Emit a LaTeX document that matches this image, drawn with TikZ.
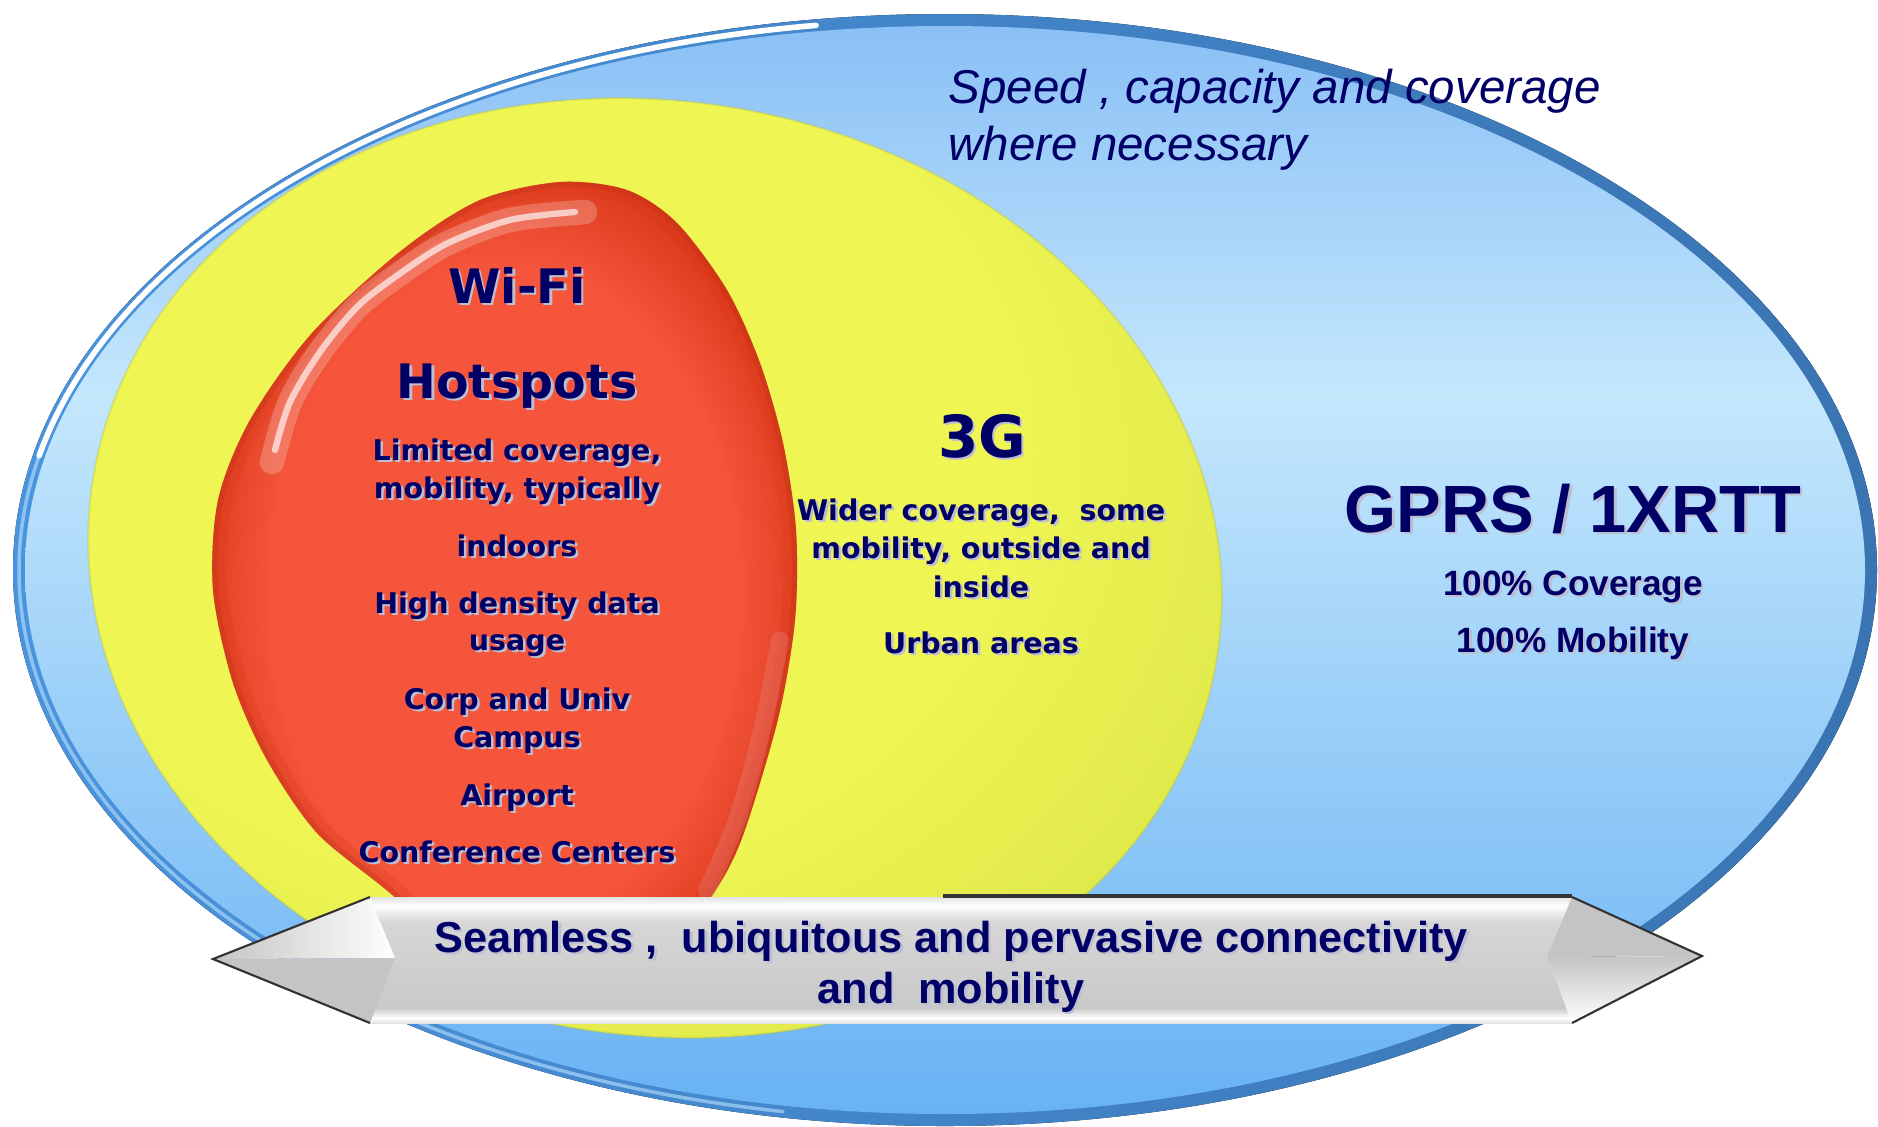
\documentclass[tikz,border=0pt]{standalone}
\usepackage{fontspec}
\usepackage{xcolor}
\newfontfamily\verdfont{DejaVu Sans}
\newfontfamily\arialfont{Liberation Sans}

\definecolor{navytxt}{RGB}{0,0,102}
\definecolor{shadowtxt}{RGB}{190,190,210}
\definecolor{blueTop}{RGB}{138,192,246}
\definecolor{blueMid}{RGB}{196,231,252}
\definecolor{blueBot}{RGB}{104,178,244}
\definecolor{rimLeft}{RGB}{74,148,222}
\definecolor{rimRight}{RGB}{58,116,178}
\definecolor{rimLight}{RGB}{170,215,248}
\definecolor{yelIn}{RGB}{239,246,84}
\definecolor{yelOut}{RGB}{214,225,68}
\definecolor{redIn}{RGB}{244,85,59}
\definecolor{redOut}{RGB}{218,56,24}
\definecolor{redPink}{RGB}{232,140,140}
\definecolor{bandGrey}{RGB}{201,201,201}
\definecolor{bandLight}{RGB}{214,214,214}
\definecolor{bandEdge}{RGB}{226,226,226}
\definecolor{headGrey}{RGB}{196,196,196}
\definecolor{edgeDark}{RGB}{50,50,50}

% tikz maps the bounding box onto 25bp..75bp of these
\pgfdeclareverticalshading{blueshade}{100bp}{color(0bp)=(blueBot); color(25bp)=(blueBot); color(58bp)=(blueMid); color(75bp)=(blueTop); color(100bp)=(blueTop)}
\pgfdeclareradialshading{yelshade}{\pgfpoint{-9bp}{9bp}}{color(0bp)=(yelIn); color(20bp)=(yelIn); color(38bp)=(yelOut); color(60bp)=(yelOut)}
\pgfdeclareradialshading{redshade}{\pgfpoint{0bp}{0bp}}{color(0bp)=(redIn); color(20bp)=(redIn); color(27bp)=(redOut); color(50bp)=(redOut)}
\pgfdeclareverticalshading{bandshade}{100bp}{color(0bp)=(bandEdge); color(25bp)=(bandEdge); color(27bp)=(white); color(31bp)=(bandGrey); color(65bp)=(bandLight); color(71.5bp)=(white); color(75bp)=(bandEdge); color(100bp)=(bandEdge)}

\newcommand\wifiblob{plot[smooth cycle] coordinates {(560,182) (627,190) (677,223) (727,290) (760,363) (783,443) (796,530) (795,620) (778,719) (742,838) (711,897) (650,975) (560,1005) (470,965) (390,893) (317,833) (267,760) (233,683) (213,590) (218,500) (250,420) (312,333) (402,250) (480,200)}}
\newcommand\txtshadow[1]{\makebox[0pt][l]{\hspace{0.7pt}\raisebox{-0.7pt}{\textcolor{shadowtxt}{#1}}}#1}

\begin{document}
\begin{tikzpicture}[x=0.01cm, y=-0.01cm,
  lbl/.style={text=navytxt, inner sep=0pt, anchor=base},
  smalltxt/.style={lbl, font=\verdfont\bfseries\fontsize{8.1}{10}\selectfont},
  bigtxt/.style={lbl, font=\verdfont\bfseries\fontsize{13.5}{16}\selectfont},
  gprstxt/.style={lbl, font=\arialfont\bfseries\fontsize{10}{12}\selectfont},
  bandtxt/.style={lbl, font=\arialfont\bfseries\fontsize{12.3}{14}\selectfont}]
\useasboundingbox (0,0) rectangle (1878,1126);
\fill[white] (0,0) rectangle (1878,1126);

% GPRS ellipse with its rim
\fill[left color=rimLeft, right color=rimRight] (945,570) ellipse [x radius=932, y radius=556];
\shade[shading=blueshade] (945,570) ellipse [x radius=920, y radius=544];
\draw[rimLight, line width=1pt, opacity=.7] (945,570) ++(100:926 and 550) arc [start angle=100, end angle=192, x radius=926, y radius=550];
\draw[white, line width=1.6pt, line cap=round] (945,570) ++(192:926 and 550) arc [start angle=192, end angle=262, x radius=926, y radius=550];

% 3G ellipse
\shade[shading=yelshade] (655,568) ellipse [x radius=569, y radius=467, rotate=-9];
\draw[yelOut!85!black, line width=0.6pt, opacity=.3] (655,568) ellipse [x radius=569, y radius=467, rotate=-9];

% Wi-Fi blob
\shade[shading=redshade] \wifiblob;
\begin{scope}
\clip \wifiblob;
\draw[redOut, line width=8pt, opacity=.25] \wifiblob;
\draw[redOut!85!black, line width=3pt, opacity=.3] \wifiblob;
\end{scope}
\draw[white, line width=7pt, opacity=.22, line cap=round] plot[smooth] coordinates {(585,212) (510,220) (446,244) (395,277) (357,307) (320,352) (290,402) (272,462)};
\draw[white, line width=1.8pt, opacity=.65, line cap=round] plot[smooth] coordinates {(575,212) (510,220) (446,244) (395,277) (357,307) (320,352) (290,402) (275,450)};
\draw[redPink, line width=5pt, opacity=.3, line cap=round] plot[smooth] coordinates {(780,640) (762,730) (737,820) (707,890)};

% banner
\shade[shading=bandshade] (370,897) rectangle (1572,1023);
\shade[left color=headGrey, right color=white] (213,959) -- (370,897) -- (395,958) -- cycle;
\fill[headGrey] (213,959) -- (395,958) -- (370,1023) -- cycle;
\fill[headGrey] (1547,957) -- (1572,897) -- (1702,956) -- cycle;
\shade[top color=headGrey, bottom color=white] (1547,957) -- (1702,956) -- (1572,1023) -- cycle;
\draw[edgeDark, line width=0.6pt] (370,1023) -- (213,959) -- (370,897);
\draw[edgeDark, line width=0.6pt] (1572,897) -- (1702,956) -- (1572,1023);
\draw[black!80, line width=0.9pt] (943,896) -- (1572,896);

% texts
\node[lbl, anchor=base west, font=\arialfont\itshape\fontsize{13.5}{16}\selectfont] (speed1) at (948,103) {Speed , capacity and coverage};
\node[lbl, anchor=base west, font=\arialfont\itshape\fontsize{13.5}{16}\selectfont] (speed2) at (948,160) {where necessary};

\node[bigtxt] (wifi) at (517,303) {\txtshadow{Wi-Fi}};
\node[bigtxt] (hotspots) at (517,398) {\txtshadow{Hotspots}};
\foreach \txt/\yy [count=\i] in {{Limited coverage,}/460, {mobility, typically}/498, indoors/556, {High density data}/613, usage/650, {Corp and Univ}/709, Campus/747, Airport/805, {Conference Centers}/862}
  \node[smalltxt] (wifi\i) at (517,\yy) {\txtshadow{\txt}};

\node[lbl, font=\verdfont\bfseries\fontsize{16.5}{20}\selectfont] (threeg) at (982,457) {\txtshadow{3G}};
\foreach \txt/\yy [count=\i] in {{Wider coverage,\ \ some}/520, {mobility, outside and}/558, inside/597, {Urban areas}/653}
  \node[smalltxt] (threeg\i) at (981,\yy) {\txtshadow{\txt}};

\node[lbl, font=\arialfont\bfseries\fontsize{19}{22}\selectfont] (gprs) at (1573,532) {\txtshadow{GPRS / 1XRTT}};
\node[gprstxt] (cover) at (1573,595) {\txtshadow{100\% Coverage}};
\node[gprstxt] (mobil) at (1573,652) {\txtshadow{100\% Mobility}};

\node[bandtxt] (band1) at (951,952) {\txtshadow{Seamless ,\ \ ubiquitous and pervasive connectivity}};
\node[bandtxt] (band2) at (951,1003) {\txtshadow{and\ \ mobility}};
\end{tikzpicture}
\end{document}
